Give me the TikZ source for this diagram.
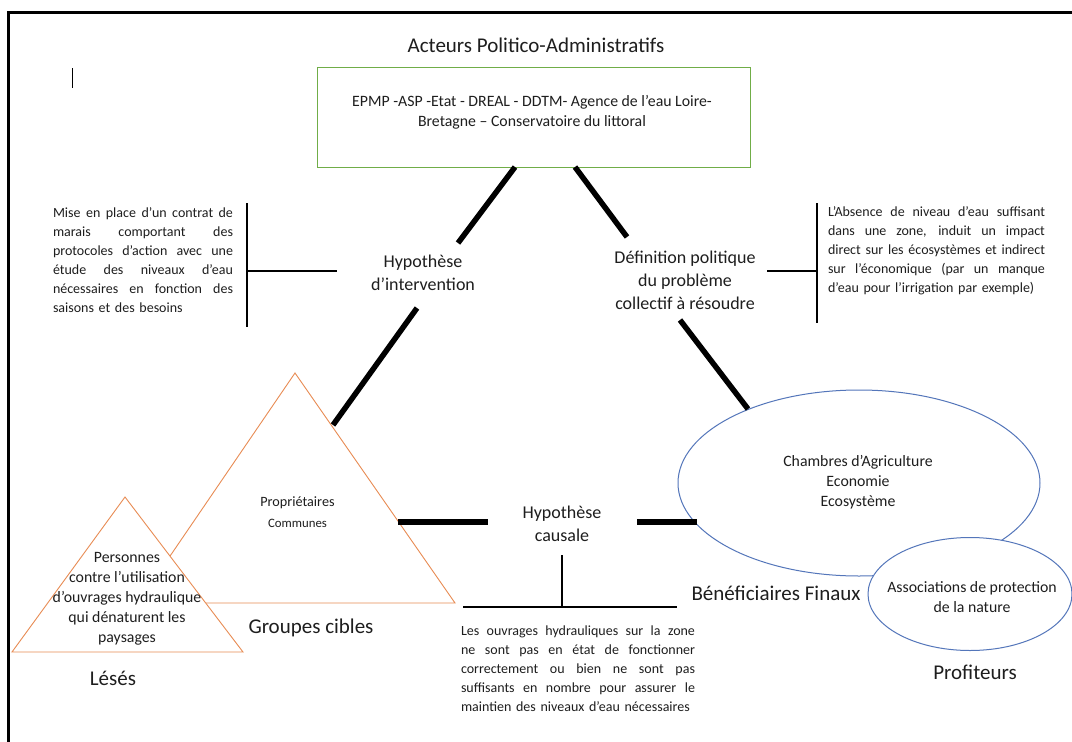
\documentclass[tikz,border=0pt]{standalone}
\usepackage{fontspec}
\setmainfont{Carlito}
\usetikzlibrary{shapes.geometric}
\definecolor{tgreen}{RGB}{112,173,71}
\definecolor{torange}{RGB}{232,140,84}
\definecolor{tblue}{RGB}{84,118,186}
\definecolor{ttext}{RGB}{30,30,30}
\newcommand{\jl}[2]{\leavevmode\hbox to #1{\spaceskip=\fontdimen2\font plus 1fil\relax #2}}
\begin{document}
\begin{tikzpicture}[x=1pt,y=-1pt,
  every node/.style={inner sep=0pt, text=ttext},
  bigtxt/.style={font=\fontsize{21}{25}\selectfont},
  midtxt/.style={font=\fontsize{18}{23}\selectfont, align=center},
  medtxt/.style={font=\fontsize{15.8}{20}\selectfont, align=center},
  smalltxt/.style={font=\fontsize{14}{19}\selectfont, align=left},
  thickline/.style={line width=5.5pt, black},
  thinline/.style={line width=1.3pt, black},
  tri/.style={draw=torange, line width=0.9pt, fill=white},
  ell/.style={draw=tblue, line width=1pt, fill=white, ellipse},
]
\useasboundingbox (0,0) rectangle (1072,742);
\fill[white] (0,0) rectangle (1072,742);
% frame
\draw[line width=3pt] (8,745) -- (8,12) -- (1075,12);
% cursor mark
\draw[line width=1pt] (72,68) -- (72,88);

% title and box
\node[bigtxt] (title) at (536,45) {Acteurs Politico-Administratifs};
\node[draw=tgreen, line width=1pt, minimum width=433pt, minimum height=100pt] (box) at (533.5,117) {};
\node[medtxt] (boxtext) at (532,112.5) {EPMP -ASP -Etat - DREAL - DDTM- Agence de l’eau Loire-\\Bretagne – Conservatoire du littoral};

% triangles
\draw[tri] (138,603) -- (295,373) -- (455,603) -- cycle;
\draw[tri] (12,652) -- (125,497) -- (243,652) -- cycle;

% ellipses
\node[ell, minimum width=362pt, minimum height=186pt] (benell) at (859,483) {};
\node[ell, minimum width=204pt, minimum height=113pt] (proell) at (970,594) {};

% connection points
\coordinate (bL) at (515,167);
\coordinate (hiT) at (458,243);
\coordinate (hiB) at (417,308);
\coordinate (tR) at (333,425);
\coordinate (bR) at (575,167);
\coordinate (dpT) at (627,237);
\coordinate (dpB) at (680,320);
\coordinate (eL) at (748,409);
\coordinate (tH) at (398,522);
\coordinate (hcL) at (488,522);
\coordinate (hcR) at (637,522);
\coordinate (eH) at (697,522);

\draw[thickline] (bL) -- (hiT);
\draw[thickline] (hiB) -- (tR);
\draw[thickline] (bR) -- (dpT);
\draw[thickline] (dpB) -- (eL);
\draw[thickline] (tH) -- (hcL);
\draw[thickline] (hcR) -- (eH);

% labels on the triangle sides
\node[midtxt] (hypint) at (423,273) {Hypothèse\\d’intervention};
\node[midtxt] (defpol) at (685,280) {Définition politique\\du problème\\collectif à résoudre};
\node[midtxt] (hypcau) at (562,524) {Hypothèse\\causale};

% brackets
\coordinate (lbT) at (247,203); \coordinate (lbB) at (247,327);
\coordinate (lbM) at (247,271); \coordinate (lbE) at (337,271);
\draw[thinline] (lbT) -- (lbB);
\draw[thinline] (lbM) -- (lbE);
\coordinate (rbT) at (817,203); \coordinate (rbB) at (817,323);
\coordinate (rbM) at (817,271); \coordinate (rbE) at (767,271);
\draw[thinline] (rbT) -- (rbB);
\draw[thinline] (rbM) -- (rbE);
\coordinate (bbT) at (562,555); \coordinate (bbM) at (562,607);
\coordinate (bbL) at (463,607); \coordinate (bbR) at (677,607);
\draw[thinline] (bbT) -- (bbM);
\draw[thinline] (bbL) -- (bbR);

% side texts
\node[smalltxt, text width=180pt] (lefttext) at (143,260.5) {\jl{180pt}{Mise en place d’un contrat de}\\\jl{180pt}{marais comportant des}\\\jl{180pt}{protocoles d’action avec une}\\\jl{180pt}{étude des niveaux d’eau}\\\jl{180pt}{nécessaires en fonction des}\\saisons et des besoins};
\node[smalltxt, text width=217pt] (righttext) at (936.5,250.5) {\jl{217pt}{L’Absence de niveau d’eau suffisant}\\\jl{217pt}{dans une zone, induit un impact}\\\jl{217pt}{direct sur les écosystèmes et indirect}\\\jl{217pt}{sur l’économique (par un manque}\\d’eau pour l’irrigation par exemple)};
\node[smalltxt, text width=234pt] (bottomtext) at (578,668.5) {\jl{234pt}{Les ouvrages hydrauliques sur la zone}\\\jl{234pt}{ne sont pas en état de fonctionner}\\\jl{234pt}{correctement ou bien ne sont pas}\\\jl{234pt}{suffisants en nombre pour assurer le}\\maintien des niveaux d’eau nécessaires};

% group texts
\node[font=\fontsize{14.2}{17}\selectfont] (prop) at (297.5,503) {Propriétaires};
\node[font=\fontsize{12.8}{16}\selectfont] (comm) at (297.5,523) {Communes};
\node[medtxt] (pers) at (127,598.5) {Personnes\\contre l’utilisation\\d’ouvrages hydraulique\\qui dénaturent les\\paysages};
\node[bigtxt] (grp) at (311,628) {Groupes cibles};
\node[bigtxt] (les) at (113,678) {Lésés};

\node[medtxt] (bentext) at (858,482) {Chambres d’Agriculture\\Economie\\Ecosystème};
\node[medtxt] (protext) at (972,597) {Associations de protection\\de la nature};
\node[bigtxt] (ben) at (776,593) {Bénéficiaires Finaux};
\node[bigtxt] (pro) at (975,672) {Profiteurs};
\end{tikzpicture}
\end{document}
